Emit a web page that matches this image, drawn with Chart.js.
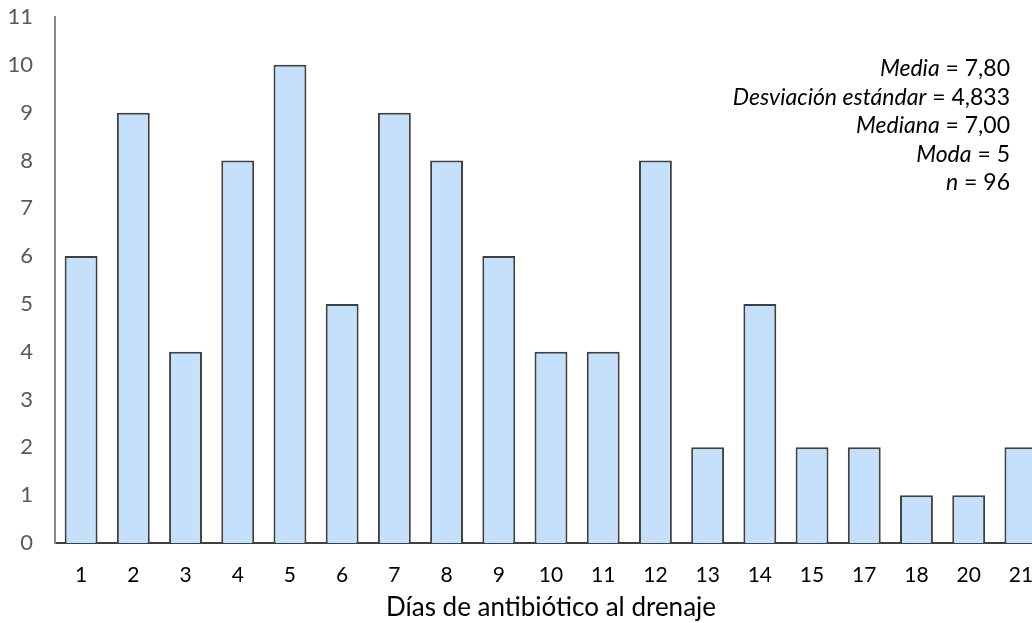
<!DOCTYPE html>
<html>
<head>
<meta charset="utf-8">
<script src="https://cdn.jsdelivr.net/npm/chart.js"></script>
<style>
  html, body { margin: 0; padding: 0; overflow: hidden; background: #fff; }
  #myCanvas { display: block; }
</style>
</head>
<body>
<canvas id="myCanvas" width="1054" height="623"></canvas>
<script>
// categories (days) and counts
const dayLabels = ['1', '2', '3', '4', '5', '6', '7', '8', '9', '10', '11', '12', '13', '14', '15', '17', '18', '20', '21'];
const patientCounts = [6, 9, 4, 8, 10, 5, 9, 8, 6, 4, 4, 8, 2, 5, 2, 2, 1, 1, 2];
const axisTitle = 'Días de antibiótico al drenaje';

// summary box, top right (name in italics, value plain)
const statNames = ['Media', 'Desviación estándar', 'Mediana', 'Moda', 'n'];
const statValues = ['7,80', '4,833', '7,00', '5', '96'];

const fontFamily = 'Lato, "Open Sans", sans-serif';

// draws the statistics text block
const statsPlugin = {
    id: 'statsText',
    afterDraw(chart) {
        let ctx = chart.ctx;
        let right = 1010;
        let top = 69;
        ctx.save();
        ctx.textBaseline = 'middle';
        ctx.fillStyle = '#000';
        for (let i = 0; i < statNames.length; i++) {
            let y = top + i * 28.5;
            let valueText = ' = ' + statValues[i];
            ctx.font = '23px ' + fontFamily;
            let vw = ctx.measureText(valueText).width;
            ctx.textAlign = 'right';
            ctx.fillText(valueText, right, y);
            ctx.font = 'italic 23px ' + fontFamily;
            ctx.fillText(statNames[i], right - vw, y);
        }
        ctx.restore();
    }
};

function drawChart() {
    let canvas = document.getElementById("myCanvas");
    let ctx = canvas.getContext("2d");

    new Chart(ctx, {
        type: 'bar',
        data: {
            labels: dayLabels,
            datasets: [{
                data: patientCounts,
                backgroundColor: '#c5e0fb',
                borderColor: '#404040',
                borderWidth: 2,
                barPercentage: 0.63,
                categoryPercentage: 1.0
            }]
        },
        options: {
            responsive: false,
            animation: false,
            layout: {
                padding: { top: 17, right: 7, left: 0, bottom: 0 }
            },
            plugins: {
                legend: { display: false },
                tooltip: { enabled: false }
            },
            scales: {
                x: {
                    grid: { display: false },
                    border: { display: true, color: '#404040', width: 2 },
                    ticks: {
                        color: '#000',
                        padding: 12,
                        maxRotation: 0,
                        autoSkip: false,
                        font: { family: fontFamily, size: 21 }
                    },
                    title: {
                        display: true,
                        text: axisTitle,
                        color: '#000',
                        padding: { top: 4, bottom: 0 },
                        font: { family: fontFamily, size: 26 }
                    },
                    afterFit: function (scale) {
                        scale.height = 80;
                        scale.paddingLeft = 0;
                        scale.paddingRight = 0;
                    }
                },
                y: {
                    min: 0,
                    max: 11,
                    grid: { display: false },
                    border: { display: true, color: '#8c8c8c', width: 2 },
                    ticks: {
                        stepSize: 1,
                        color: '#595959',
                        padding: 14,
                        font: { family: fontFamily, size: 22 }
                    },
                    afterFit: function (scale) {
                        scale.width = 55;
                        scale.paddingTop = 0;
                        scale.paddingBottom = 0;
                    }
                }
            }
        },
        plugins: [statsPlugin]
    });
}

drawChart();
</script>
</body>
</html>
